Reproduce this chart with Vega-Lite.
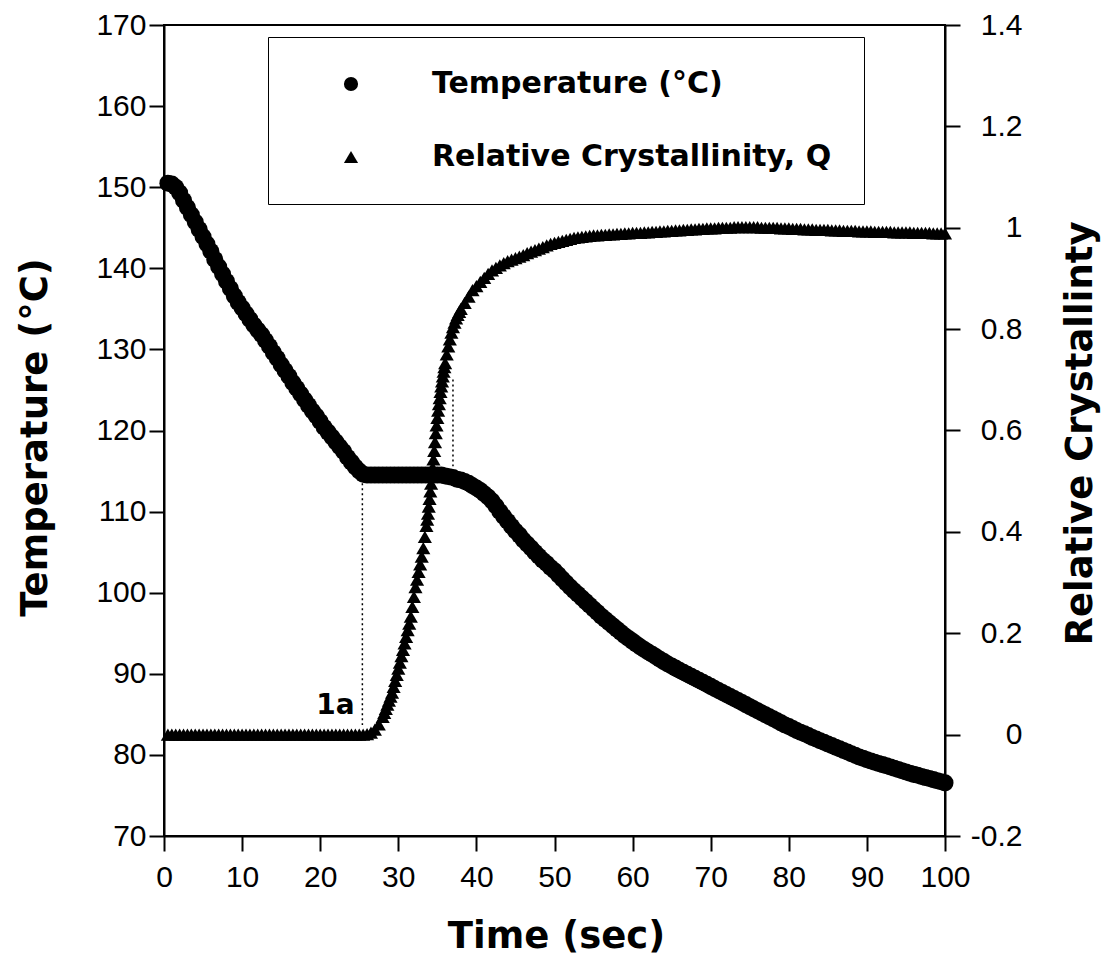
{
 "$schema": "https://vega.github.io/schema/vega-lite/v6.json",
 "autosize": {"type": "none"},
 "padding": {"left": 164, "top": 25, "right": 165, "bottom": 131},
 "width": 781,
 "height": 811,
 "background": "white",
 "config": {
  "view": {"stroke": "black", "strokeWidth": 2},
  "axis": {"grid": false, "domainColor": "black", "domainWidth": 2, "tickColor": "black", "tickWidth": 2, "tickSize": 15,
   "labelFont": "Liberation Sans", "labelFontSize": 30, "labelColor": "black", "labelFlush": false, "labelOverlap": false, "labelBound": false,
   "titleFont": "DejaVu Sans", "titleFontSize": 37, "titleFontWeight": "bold", "titleColor": "black"},
  "legend": {"strokeColor": "black", "fillColor": "white", "padding": 32, "symbolOffset": 36, "labelOffset": 66,
   "labelFont": "DejaVu Sans", "labelFontSize": 30, "labelFontWeight": "bold", "labelColor": "black",
   "rowPadding": 43, "symbolSize": 200, "symbolFillColor": "black", "symbolStrokeColor": "black", "labelLimit": 0}
 },
 "datasets": {
  "temp": [
   {"t":0.5,"v":150.5},{"t":1,"v":150.4},{"t":1.5,"v":150.0},{"t":2,"v":149.3},{"t":2.5,"v":148.4},{"t":3,"v":147.5},{"t":3.5,"v":146.6},{"t":4,"v":145.7},{"t":4.5,"v":144.8},{"t":5,"v":143.9},
   {"t":5.5,"v":143.0},{"t":6,"v":142.1},{"t":6.5,"v":141.1},{"t":7,"v":140.2},{"t":7.5,"v":139.3},{"t":8,"v":138.4},{"t":8.5,"v":137.5},{"t":9,"v":136.6},{"t":9.5,"v":135.8},{"t":10,"v":135.1},
   {"t":10.5,"v":134.4},{"t":11,"v":133.7},{"t":11.5,"v":133.0},{"t":12,"v":132.4},{"t":12.5,"v":131.8},{"t":13,"v":131.1},{"t":13.5,"v":130.4},{"t":14,"v":129.6},{"t":14.5,"v":128.9},{"t":15,"v":128.1},
   {"t":15.5,"v":127.4},{"t":16,"v":126.7},{"t":16.5,"v":125.9},{"t":17,"v":125.2},{"t":17.5,"v":124.5},{"t":18,"v":123.8},{"t":18.5,"v":123.1},{"t":19,"v":122.4},{"t":19.5,"v":121.8},{"t":20,"v":121.1},
   {"t":20.5,"v":120.4},{"t":21,"v":119.8},{"t":21.5,"v":119.2},{"t":22,"v":118.6},{"t":22.5,"v":118.0},{"t":23,"v":117.4},{"t":23.5,"v":116.7},{"t":24,"v":116.1},{"t":24.5,"v":115.5},{"t":25,"v":115.0},
   {"t":25.5,"v":114.6},{"t":26,"v":114.5},{"t":26.5,"v":114.5},{"t":27,"v":114.5},{"t":27.5,"v":114.5},{"t":28,"v":114.5},{"t":28.5,"v":114.5},{"t":29,"v":114.5},{"t":29.5,"v":114.5},{"t":30,"v":114.5},
   {"t":30.5,"v":114.5},{"t":31,"v":114.5},{"t":31.5,"v":114.5},{"t":32,"v":114.5},{"t":32.5,"v":114.5},{"t":33,"v":114.5},{"t":33.5,"v":114.5},{"t":34,"v":114.5},{"t":34.5,"v":114.5},{"t":35,"v":114.5},
   {"t":35.5,"v":114.5},{"t":36,"v":114.4},{"t":36.5,"v":114.3},{"t":37,"v":114.2},{"t":37.5,"v":114.0},{"t":38,"v":113.9},{"t":38.5,"v":113.7},{"t":39,"v":113.5},{"t":39.5,"v":113.2},{"t":40,"v":112.9},
   {"t":40.5,"v":112.6},{"t":41,"v":112.2},{"t":41.5,"v":111.8},{"t":42,"v":111.3},{"t":42.5,"v":110.7},{"t":43,"v":110.0},{"t":43.5,"v":109.4},{"t":44,"v":108.8},{"t":44.5,"v":108.2},{"t":45,"v":107.6},
   {"t":45.5,"v":107.1},{"t":46,"v":106.5},{"t":46.5,"v":106.0},{"t":47,"v":105.5},{"t":47.5,"v":105.0},{"t":48,"v":104.5},{"t":48.5,"v":104.0},{"t":49,"v":103.6},{"t":49.5,"v":103.1},{"t":50,"v":102.7},
   {"t":50.5,"v":102.2},{"t":51,"v":101.7},{"t":51.5,"v":101.2},{"t":52,"v":100.7},{"t":52.5,"v":100.25},{"t":53,"v":99.8},{"t":53.5,"v":99.35},{"t":54,"v":98.9},{"t":54.5,"v":98.45},{"t":55,"v":98.0},
   {"t":55.5,"v":97.55},{"t":56,"v":97.1},{"t":56.5,"v":96.7},{"t":57,"v":96.3},{"t":57.5,"v":95.9},{"t":58,"v":95.5},{"t":58.5,"v":95.1},{"t":59,"v":94.7},{"t":59.5,"v":94.35},{"t":60,"v":94.0},
   {"t":60.5,"v":93.65},{"t":61,"v":93.3},{"t":61.5,"v":93.0},{"t":62,"v":92.7},{"t":62.5,"v":92.4},{"t":63,"v":92.1},{"t":63.5,"v":91.8},{"t":64,"v":91.5},{"t":64.5,"v":91.2},{"t":65,"v":90.95},
   {"t":65.5,"v":90.7},{"t":66,"v":90.45},{"t":66.5,"v":90.2},{"t":67,"v":89.95},{"t":67.5,"v":89.7},{"t":68,"v":89.45},{"t":68.5,"v":89.2},{"t":69,"v":88.95},{"t":69.5,"v":88.7},{"t":70,"v":88.45},
   {"t":70.5,"v":88.2},{"t":71,"v":87.95},{"t":71.5,"v":87.7},{"t":72,"v":87.45},{"t":72.5,"v":87.2},{"t":73,"v":86.95},{"t":73.5,"v":86.7},{"t":74,"v":86.45},{"t":74.5,"v":86.2},{"t":75,"v":85.95},
   {"t":75.5,"v":85.7},{"t":76,"v":85.45},{"t":76.5,"v":85.2},{"t":77,"v":84.95},{"t":77.5,"v":84.7},{"t":78,"v":84.45},{"t":78.5,"v":84.2},{"t":79,"v":83.95},{"t":79.5,"v":83.7},{"t":80,"v":83.5},
   {"t":80.5,"v":83.25},{"t":81,"v":83.0},{"t":81.5,"v":82.8},{"t":82,"v":82.6},{"t":82.5,"v":82.4},{"t":83,"v":82.15},{"t":83.5,"v":81.95},{"t":84,"v":81.75},{"t":84.5,"v":81.55},{"t":85,"v":81.35},
   {"t":85.5,"v":81.15},{"t":86,"v":80.95},{"t":86.5,"v":80.75},{"t":87,"v":80.55},{"t":87.5,"v":80.35},{"t":88,"v":80.15},{"t":88.5,"v":79.95},{"t":89,"v":79.75},{"t":89.5,"v":79.6},{"t":90,"v":79.4},
   {"t":90.5,"v":79.25},{"t":91,"v":79.1},{"t":91.5,"v":78.95},{"t":92,"v":78.8},{"t":92.5,"v":78.65},{"t":93,"v":78.5},{"t":93.5,"v":78.35},{"t":94,"v":78.2},{"t":94.5,"v":78.05},{"t":95,"v":77.9},
   {"t":95.5,"v":77.75},{"t":96,"v":77.6},{"t":96.5,"v":77.5},{"t":97,"v":77.35},{"t":97.5,"v":77.2},{"t":98,"v":77.1},{"t":98.5,"v":76.95},{"t":99,"v":76.8},{"t":99.5,"v":76.7},{"t":100,"v":76.55}
  ],
  "cryst": [
   {"t":0.5,"q":0},{"t":1,"q":0},{"t":1.5,"q":0},{"t":2,"q":0},{"t":2.5,"q":0},{"t":3,"q":0},{"t":3.5,"q":0},{"t":4,"q":0},{"t":4.5,"q":0},{"t":5,"q":0},
   {"t":5.5,"q":0},{"t":6,"q":0},{"t":6.5,"q":0},{"t":7,"q":0},{"t":7.5,"q":0},{"t":8,"q":0},{"t":8.5,"q":0},{"t":9,"q":0},{"t":9.5,"q":0},{"t":10,"q":0},
   {"t":10.5,"q":0},{"t":11,"q":0},{"t":11.5,"q":0},{"t":12,"q":0},{"t":12.5,"q":0},{"t":13,"q":0},{"t":13.5,"q":0},{"t":14,"q":0},{"t":14.5,"q":0},{"t":15,"q":0},
   {"t":15.5,"q":0},{"t":16,"q":0},{"t":16.5,"q":0},{"t":17,"q":0},{"t":17.5,"q":0},{"t":18,"q":0},{"t":18.5,"q":0},{"t":19,"q":0},{"t":19.5,"q":0},{"t":20,"q":0},
   {"t":20.5,"q":0},{"t":21,"q":0},{"t":21.5,"q":0},{"t":22,"q":0},{"t":22.5,"q":0},{"t":23,"q":0},{"t":23.5,"q":0},{"t":24,"q":0},{"t":24.5,"q":0},{"t":25,"q":0},
   {"t":25.5,"q":0},{"t":26,"q":0.001},{"t":26.5,"q":0.004},{"t":27,"q":0.010},{"t":27.5,"q":0.020},
   {"t":28,"q":0.035},{"t":28.2,"q":0.043},{"t":28.4,"q":0.051},{"t":28.6,"q":0.059},{"t":28.8,"q":0.067},{"t":29,"q":0.075},{"t":29.2,"q":0.083},{"t":29.4,"q":0.094},{"t":29.6,"q":0.106},{"t":29.8,"q":0.118},
   {"t":30,"q":0.130},{"t":30.2,"q":0.142},{"t":30.4,"q":0.155},{"t":30.6,"q":0.167},{"t":30.8,"q":0.180},{"t":31,"q":0.193},{"t":31.2,"q":0.206},{"t":31.4,"q":0.219},{"t":31.6,"q":0.233},{"t":31.8,"q":0.252},
   {"t":32,"q":0.272},{"t":32.2,"q":0.291},{"t":32.4,"q":0.306},{"t":32.6,"q":0.321},{"t":32.8,"q":0.336},{"t":33,"q":0.351},{"t":33.2,"q":0.368},{"t":33.4,"q":0.390},
   {"t":33.6,"q":0.412},{"t":33.7,"q":0.424},{"t":33.8,"q":0.436},{"t":33.9,"q":0.450},{"t":34,"q":0.465},{"t":34.1,"q":0.480},{"t":34.2,"q":0.495},{"t":34.3,"q":0.511},{"t":34.4,"q":0.527},{"t":34.5,"q":0.543},
   {"t":34.6,"q":0.560},{"t":34.7,"q":0.577},{"t":34.8,"q":0.595},{"t":34.9,"q":0.610},{"t":35,"q":0.625},{"t":35.1,"q":0.639},{"t":35.2,"q":0.652},{"t":35.3,"q":0.664},{"t":35.4,"q":0.676},{"t":35.5,"q":0.687},
   {"t":35.6,"q":0.697},{"t":35.7,"q":0.707},{"t":35.8,"q":0.716},{"t":35.9,"q":0.725},{"t":36,"q":0.733},
   {"t":36.2,"q":0.750},{"t":36.4,"q":0.766},{"t":36.6,"q":0.780},{"t":36.8,"q":0.793},{"t":37,"q":0.804},{"t":37.2,"q":0.813},{"t":37.4,"q":0.821},{"t":37.6,"q":0.828},{"t":37.8,"q":0.834},
   {"t":38,"q":0.840},{"t":38.5,"q":0.852},{"t":39,"q":0.864},{"t":39.5,"q":0.877},{"t":40,"q":0.885},{"t":40.5,"q":0.893},{"t":41,"q":0.901},{"t":41.5,"q":0.909},{"t":42,"q":0.916},{"t":42.5,"q":0.921},
   {"t":43,"q":0.926},{"t":43.5,"q":0.930},{"t":44,"q":0.934},{"t":44.5,"q":0.937},{"t":45,"q":0.940},{"t":45.5,"q":0.943},{"t":46,"q":0.946},{"t":46.5,"q":0.950},{"t":47,"q":0.953},{"t":47.5,"q":0.956},
   {"t":48,"q":0.959},{"t":48.5,"q":0.962},{"t":49,"q":0.965},{"t":49.5,"q":0.968},{"t":50,"q":0.970},{"t":50.5,"q":0.972},{"t":51,"q":0.974},{"t":51.5,"q":0.976},{"t":52,"q":0.978},{"t":52.5,"q":0.980},
   {"t":53,"q":0.981},{"t":53.5,"q":0.982},{"t":54,"q":0.983},{"t":54.5,"q":0.984},{"t":55,"q":0.985},{"t":55.5,"q":0.985},{"t":56,"q":0.986},{"t":56.5,"q":0.986},{"t":57,"q":0.987},{"t":57.5,"q":0.987},
   {"t":58,"q":0.988},{"t":58.5,"q":0.988},{"t":59,"q":0.989},{"t":59.5,"q":0.989},{"t":60,"q":0.990},{"t":60.5,"q":0.990},{"t":61,"q":0.990},{"t":61.5,"q":0.991},{"t":62,"q":0.991},{"t":62.5,"q":0.992},
   {"t":63,"q":0.992},{"t":63.5,"q":0.993},{"t":64,"q":0.993},{"t":64.5,"q":0.994},{"t":65,"q":0.994},{"t":65.5,"q":0.995},{"t":66,"q":0.995},{"t":66.5,"q":0.996},{"t":67,"q":0.996},{"t":67.5,"q":0.997},
   {"t":68,"q":0.997},{"t":68.5,"q":0.998},{"t":69,"q":0.998},{"t":69.5,"q":0.999},{"t":70,"q":0.999},{"t":70.5,"q":0.999},{"t":71,"q":1.000},{"t":71.5,"q":1.000},{"t":72,"q":1.000},{"t":72.5,"q":1.000},
   {"t":73,"q":1.001},{"t":73.5,"q":1.001},{"t":74,"q":1.001},{"t":74.5,"q":1.001},{"t":75,"q":1.001},{"t":75.5,"q":1.001},{"t":76,"q":1.001},{"t":76.5,"q":1.000},{"t":77,"q":1.000},{"t":77.5,"q":1.000},
   {"t":78,"q":1.000},{"t":78.5,"q":1.000},{"t":79,"q":0.999},{"t":79.5,"q":0.999},{"t":80,"q":0.999},{"t":80.5,"q":0.998},{"t":81,"q":0.998},{"t":81.5,"q":0.998},{"t":82,"q":0.997},{"t":82.5,"q":0.997},
   {"t":83,"q":0.997},{"t":83.5,"q":0.996},{"t":84,"q":0.996},{"t":84.5,"q":0.996},{"t":85,"q":0.996},{"t":85.5,"q":0.995},{"t":86,"q":0.995},{"t":86.5,"q":0.995},{"t":87,"q":0.994},{"t":87.5,"q":0.994},
   {"t":88,"q":0.994},{"t":88.5,"q":0.994},{"t":89,"q":0.993},{"t":89.5,"q":0.993},{"t":90,"q":0.993},{"t":90.5,"q":0.993},{"t":91,"q":0.992},{"t":91.5,"q":0.992},{"t":92,"q":0.992},{"t":92.5,"q":0.992},
   {"t":93,"q":0.992},{"t":93.5,"q":0.991},{"t":94,"q":0.991},{"t":94.5,"q":0.991},{"t":95,"q":0.991},{"t":95.5,"q":0.991},{"t":96,"q":0.990},{"t":96.5,"q":0.990},{"t":97,"q":0.990},{"t":97.5,"q":0.990},
   {"t":98,"q":0.990},{"t":98.5,"q":0.989},{"t":99,"q":0.989},{"t":99.5,"q":0.989},{"t":100,"q":0.989}
  ],
  "guides": [
   {"t":25.4,"v":113.5,"vend":83.7},
   {"t":37.0,"v":126.3,"vend":115.6}
  ],
  "notes": [
   {"t":24.4,"v":86.0,"label":"1a"}
  ]
 },
 "encoding": {
  "x": {"field": "t", "type": "quantitative", "title": "Time (sec)",
   "scale": {"domain": [0, 100], "nice": false, "zero": false},
   "axis": {"orient": "bottom", "values": [0,10,20,30,40,50,60,70,80,90,100], "labelPadding": 11,
    "titleX": 392, "titleY": 100, "titleAlign": "center", "titleBaseline": "middle", "titleAngle": 0}}
 },
 "layer": [
  {
   "encoding": {
    "y": {"field": "v", "type": "quantitative", "title": "Temperature (°C)",
     "scale": {"domain": [70, 170], "nice": false, "zero": false},
     "axis": {"orient": "left", "values": [70,80,90,100,110,120,130,140,150,160,170], "labelPadding": 3,
      "titleX": -129, "titleY": 412, "titleAngle": 270, "titleAlign": "center", "titleBaseline": "middle"}}
   },
   "layer": [
    {
     "data": {"name": "temp"},
     "mark": {"type": "point", "filled": true, "size": 290, "opacity": 1, "color": "black", "strokeWidth": 0},
     "encoding": {
      "shape": {"datum": "Temperature (°C)", "type": "nominal",
       "scale": {"domain": ["Temperature (°C)", "Relative Crystallinity, Q"], "range": ["circle", "triangle-up"]},
       "legend": {"title": null, "orient": "none", "legendX": 104, "legendY": 12}}
     }
    },
    {
     "data": {"name": "guides"},
     "mark": {"type": "rule", "color": "black", "strokeWidth": 1.5, "strokeDash": [2, 3]},
     "encoding": {"y2": {"field": "vend"}}
    },
    {
     "data": {"name": "notes"},
     "mark": {"type": "text", "align": "right", "baseline": "middle", "font": "DejaVu Sans", "fontSize": 28, "fontWeight": "bold", "color": "black"},
     "encoding": {"text": {"field": "label", "type": "nominal"}}
    }
   ]
  },
  {
   "data": {"name": "cryst"},
   "mark": {"type": "point", "filled": true, "size": 200, "opacity": 1, "color": "black", "strokeWidth": 0},
   "encoding": {
    "y": {"field": "q", "type": "quantitative", "title": "Relative Crystallinty",
     "scale": {"domain": [-0.2, 1.4], "nice": false, "zero": false},
     "axis": {"orient": "right", "values": [-0.2,0,0.2,0.4,0.6,0.8,1,1.2,1.4], "labelAlign": "right", "labelPadding": 62,
      "labelExpr": "datum.value < 0 ? '-' + format(-datum.value, '~g') : format(datum.value, '~g')",
      "titleX": 135, "titleY": 408, "titleAngle": 270, "titleAlign": "center", "titleBaseline": "middle"}},
    "shape": {"datum": "Relative Crystallinity, Q", "type": "nominal"}
   }
  }
 ],
 "resolve": {"scale": {"y": "independent"}}
}
